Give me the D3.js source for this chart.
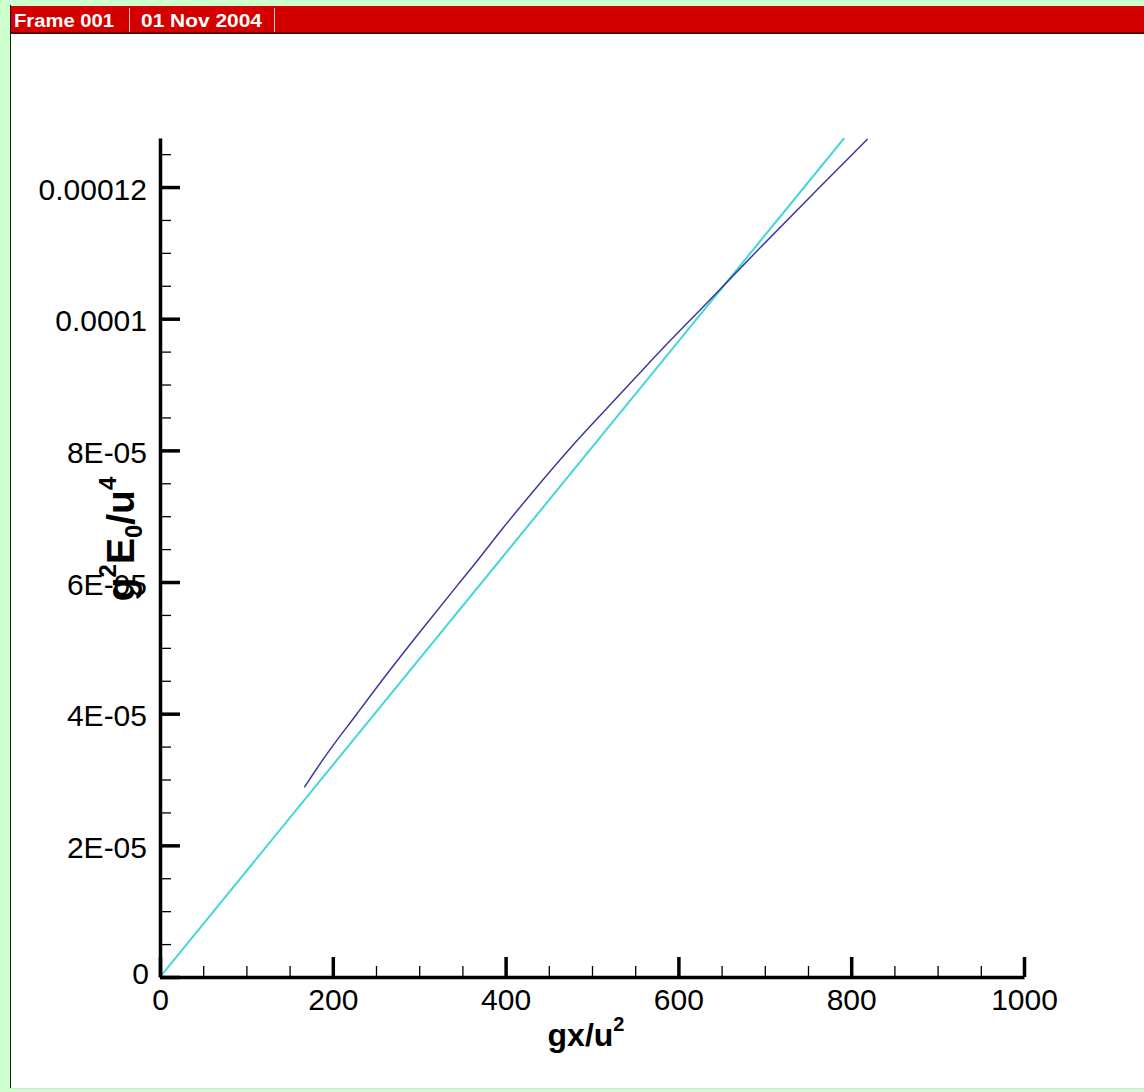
<!DOCTYPE html>
<html>
<head>
<meta charset="utf-8">
<script src="https://cdn.jsdelivr.net/npm/d3@7"></script>
<style>
  html, body { margin: 0; padding: 0; background: #ccffcc; }
  svg { display: block; }
  text { font-family: "Liberation Sans", Arial, Helvetica, sans-serif; }
</style>
</head>
<body>
<svg id="chart" width="1144" height="1092"></svg>
<script>
// Frame header
const frameLabel = "Frame 001";
const dateLabel = "01 Nov 2004";

// Axis ticks
const xTickValues = [0, 200, 400, 600, 800, 1000];
const xTickLabels = ["0", "200", "400", "600", "800", "1000"];
const yTickValues = [0, 2e-5, 4e-5, 6e-5, 8e-5, 1e-4, 1.2e-4];
const yTickLabels = ["0", "2E-05", "4E-05", "6E-05", "8E-05", "0.0001", "0.00012"];

// Measured energy g^2 E0 / u^4 against fetch g x / u^2
const energyX = [167, 189, 228, 266, 305, 343, 361, 397, 436, 474, 513, 552, 590, 633, 694, 760, 819];
const energyY = [2.88e-5, 3.31e-5, 4.00e-5, 4.66e-5, 5.31e-5, 5.93e-5, 6.22e-5, 6.82e-5, 7.44e-5,
                 8.02e-5, 8.58e-5, 9.13e-5, 9.66e-5, 10.24e-5, 11.07e-5, 11.95e-5, 12.73e-5];

// Linear growth law
const fitX = [0, 792];
const fitY = [0, 1.2745e-4];

const svg = d3.select("#chart");
const W = 1144, H = 1092;

// Page frame: white sheet with red title bar
svg.append("rect").attr("x", 0).attr("y", 0).attr("width", W).attr("height", H).attr("fill", "#ccffcc");
svg.append("rect").attr("x", 10).attr("y", 33).attr("width", W - 10).attr("height", 1056)
   .attr("fill", "#ffffff");
svg.append("line").attr("x1", 10.5).attr("x2", 10.5).attr("y1", 5).attr("y2", 1089)
   .attr("stroke", "#1a1a1a").attr("stroke-width", 1);
svg.append("line").attr("x1", 10).attr("x2", W).attr("y1", 1088.5).attr("y2", 1088.5)
   .attr("stroke", "#dddddd").attr("stroke-width", 1);

const bar = svg.append("g");
bar.append("rect").attr("x", 11).attr("y", 6).attr("width", W - 11).attr("height", 27).attr("fill", "#d40000");
bar.append("rect").attr("x", 11).attr("y", 32).attr("width", W - 11).attr("height", 2).attr("fill", "#6a0000");
bar.append("text").attr("x", 14).attr("y", 27).attr("fill", "#ffffff")
   .attr("font-size", 18).attr("font-weight", "bold")
   .attr("textLength", 100).attr("lengthAdjust", "spacingAndGlyphs").text(frameLabel);
bar.append("text").attr("x", 141).attr("y", 27).attr("fill", "#ffffff")
   .attr("font-size", 18).attr("font-weight", "bold")
   .attr("textLength", 121).attr("lengthAdjust", "spacingAndGlyphs").text(dateLabel);
[129.5, 274.5].forEach(xs => {
  bar.append("line").attr("x1", xs).attr("x2", xs).attr("y1", 8).attr("y2", 32)
     .attr("stroke", "#f0c8c8").attr("stroke-width", 1);
});

// Scales
const x = d3.scaleLinear().domain([0, 1000]).range([160, 1024]);
const y = d3.scaleLinear().domain([0, 1.2745e-4]).range([977, 138]);

// Curves, clipped to the plot box
svg.append("clipPath").attr("id", "plotclip")
   .append("rect").attr("x", 160).attr("y", 138).attr("width", 864).attr("height", 839);

const line = d3.line().x(d => x(d[0])).y(d => y(d[1]));
const plot = svg.append("g").attr("clip-path", "url(#plotclip)");

plot.append("path")
    .datum(fitX.map((v, i) => [v, fitY[i]]))
    .attr("d", line).attr("fill", "none")
    .attr("stroke", "#45d6d6").attr("stroke-width", 2);

plot.append("path")
    .datum(energyX.map((v, i) => [v, energyY[i]]))
    .attr("d", line.curve(d3.curveMonotoneX)).attr("fill", "none")
    .attr("stroke", "#3a3a9e").attr("stroke-width", 1.5);

// Minor ticks
const xMinor = d3.range(50, 1000, 50).filter(v => v % 200 !== 0);
const yMinor = d3.range(1, 26).map(i => i * 5e-6).filter((v, i) => (i + 1) % 4 !== 0);

svg.append("g").attr("transform", "translate(0,977)")
   .call(d3.axisBottom(x).tickValues(xMinor).tickSize(-11).tickFormat("").tickSizeOuter(0))
   .call(g => g.select(".domain").remove())
   .call(g => g.selectAll(".tick line").attr("stroke", "#000").attr("stroke-width", 1.3));

svg.append("g").attr("transform", "translate(160,0)")
   .call(d3.axisLeft(y).tickValues(yMinor).tickSize(-11).tickFormat("").tickSizeOuter(0))
   .call(g => g.select(".domain").remove())
   .call(g => g.selectAll(".tick line").attr("stroke", "#000").attr("stroke-width", 1.3));

// Major ticks and labels
const xAxis = svg.append("g").attr("transform", "translate(0,977)")
   .call(d3.axisBottom(x).tickValues(xTickValues).tickSize(-20).tickSizeOuter(0)
         .tickPadding(10).tickFormat((d, i) => xTickLabels[i]));
xAxis.select(".domain").attr("stroke", "#000").attr("stroke-width", 3.5);
xAxis.selectAll(".tick line").attr("stroke", "#000").attr("stroke-width", 3.5);
xAxis.selectAll(".tick text").attr("fill", "#000").attr("font-size", 30)
     .attr("font-family", "'Liberation Sans', Arial, sans-serif").attr("dy", "0.71em").attr("y", 12);

const yAxis = svg.append("g").attr("transform", "translate(160,0)")
   .call(d3.axisLeft(y).tickValues(yTickValues).tickSize(-20).tickSizeOuter(0)
         .tickPadding(13).tickFormat((d, i) => yTickLabels[i]));
yAxis.select(".domain").attr("stroke", "#000").attr("stroke-width", 3.5);
yAxis.selectAll(".tick line").attr("stroke", "#000").attr("stroke-width", 3.5);
yAxis.selectAll(".tick text").attr("fill", "#000").attr("font-size", 30)
     .attr("font-family", "'Liberation Sans', Arial, sans-serif").attr("dy", "0.4em");
yAxis.selectAll(".tick").filter(d => d === 0).select("text").attr("dy", "0.2em").attr("x", -11);

// Axis titles
const xt = svg.append("text").attr("x", 586).attr("y", 1046).attr("text-anchor", "middle")
   .attr("font-size", 32).attr("font-weight", "bold").attr("fill", "#000");
xt.append("tspan").text("gx/u");
xt.append("tspan").attr("font-size", 20).attr("dy", -15).text("2");

const yt = svg.append("text").attr("transform", "translate(134,539) rotate(-90)")
   .attr("text-anchor", "middle").attr("font-size", 39).attr("font-weight", "bold").attr("fill", "#000");
yt.append("tspan").text("g");
yt.append("tspan").attr("font-size", 24).attr("dy", -18).text("2");
yt.append("tspan").attr("dy", 18).text("E");
yt.append("tspan").attr("font-size", 24).attr("dy", 8).text("0");
yt.append("tspan").attr("dy", -8).text("/u");
yt.append("tspan").attr("font-size", 24).attr("dy", -18).text("4");
</script>
</body>
</html>
